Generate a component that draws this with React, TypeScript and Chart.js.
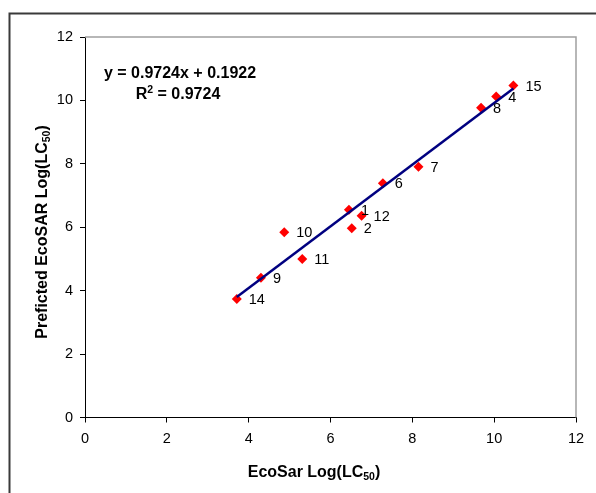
import React, { useEffect, useRef } from 'react';
import { Chart, registerables } from 'chart.js';

Chart.register(...registerables);

// ---- data ----
const pointIds = ['1', '2', '4', '6', '7', '8', '9', '10', '11', '12', '14', '15'];
const ecoSarX = [6.45, 6.52, 10.05, 7.28, 8.15, 9.68, 4.3, 4.87, 5.31, 6.76, 3.71, 10.47];
const predictedY = [6.55, 5.97, 10.12, 7.39, 7.91, 9.77, 4.41, 5.84, 5.0, 6.36, 3.74, 10.47];
const trendSlope = 0.9724;
const trendIntercept = 0.1922;
const rSquared = '0.9724';
const xTicks = [0, 2, 4, 6, 8, 10, 12];
const yTicks = [0, 2, 4, 6, 8, 10, 12];
const xTitle = ['EcoSar Log(LC', '50', ')'];
const yTitle = ['Preficted EcoSAR Log(LC', '50', ')'];

const FONT = '"Liberation Sans", Arial, Helvetica, sans-serif';

type Run = { text: string; size: number; dy: number };

function drawRuns(ctx: CanvasRenderingContext2D, runs: Run[], cx: number, baseline: number) {
  let total = 0;
  const widths = runs.map((r) => {
    ctx.font = `bold ${r.size}px ${FONT}`;
    const w = ctx.measureText(r.text).width;
    total += w;
    return w;
  });
  let x = cx - total / 2;
  ctx.textAlign = 'left';
  ctx.textBaseline = 'alphabetic';
  runs.forEach((r, i) => {
    ctx.font = `bold ${r.size}px ${FONT}`;
    ctx.fillText(r.text, x, baseline + r.dy);
    x += widths[i];
  });
}

const decorPlugin = {
  id: 'decor',
  beforeDraw(chart: any) {
    const ctx = chart.ctx as CanvasRenderingContext2D;
    ctx.save();
    ctx.fillStyle = '#ffffff';
    ctx.fillRect(0, 0, chart.width, chart.height);
    ctx.strokeStyle = '#3a3a3a';
    ctx.lineWidth = 2;
    ctx.beginPath();
    ctx.moveTo(9.5, chart.height);
    ctx.lineTo(9.5, 13.5);
    ctx.lineTo(chart.width, 13.5);
    ctx.stroke();
    ctx.restore();
  },
  beforeDatasetsDraw(chart: any) {
    const ctx = chart.ctx as CanvasRenderingContext2D;
    const a = chart.chartArea;
    ctx.save();
    ctx.strokeStyle = '#a0a0a0';
    ctx.lineWidth = 1.5;
    ctx.beginPath();
    ctx.moveTo(a.left, a.top);
    ctx.lineTo(a.right, a.top);
    ctx.lineTo(a.right, a.bottom);
    ctx.stroke();
    ctx.restore();
  },
  afterDatasetsDraw(chart: any) {
    const ctx = chart.ctx as CanvasRenderingContext2D;
    ctx.save();
    // point labels
    const meta = chart.getDatasetMeta(1);
    ctx.fillStyle = '#000';
    ctx.font = `14.5px ${FONT}`;
    ctx.textAlign = 'left';
    ctx.textBaseline = 'middle';
    meta.data.forEach((el: any, i: number) => {
      ctx.fillText(pointIds[i], el.x + 12, el.y + 1);
    });
    // equation
    ctx.fillStyle = '#000';
    drawRuns(ctx, [{ text: `y = ${trendSlope}x + ${trendIntercept}`, size: 16, dy: 0 }], 180, 78);
    drawRuns(
      ctx,
      [
        { text: 'R', size: 16, dy: 0 },
        { text: '2', size: 10.5, dy: -6 },
        { text: ` = ${rSquared}`, size: 16, dy: 0 },
      ],
      178,
      99.3
    );
    // x title
    drawRuns(
      ctx,
      [
        { text: xTitle[0], size: 16, dy: 0 },
        { text: xTitle[1], size: 10.5, dy: 3 },
        { text: xTitle[2], size: 16, dy: 0 },
      ],
      314,
      476.5
    );
    // y title
    ctx.translate(46.5, 232);
    ctx.rotate(-Math.PI / 2);
    drawRuns(
      ctx,
      [
        { text: yTitle[0], size: 16, dy: 0 },
        { text: yTitle[1], size: 10.5, dy: 3 },
        { text: yTitle[2], size: 16, dy: 0 },
      ],
      0,
      0
    );
    ctx.restore();
  },
};

export default function App() {
  const ref = useRef<HTMLCanvasElement>(null);

  useEffect(() => {
    if (!ref.current) return;
    const xMin = Math.min(...ecoSarX);
    const xMax = Math.max(...ecoSarX);
    const trend = [
      { x: xMin, y: trendSlope * xMin + trendIntercept },
      { x: xMax, y: trendSlope * xMax + trendIntercept },
    ];
    const pts = ecoSarX.map((x, i) => ({ x, y: predictedY[i] }));
    const tickFont = { family: FONT, size: 14.5 };

    const chart = new Chart(ref.current, {
      type: 'scatter',
      data: {
        datasets: [
          {
            label: 'Trend',
            data: trend,
            showLine: true,
            borderColor: '#000080',
            borderWidth: 2.5,
            pointRadius: 0,
            fill: false,
          } as any,
          {
            label: 'Points',
            data: pts,
            backgroundColor: '#ff0000',
            borderColor: '#ff0000',
            borderWidth: 0,
            pointStyle: 'rectRot',
            pointRadius: 5,
          } as any,
        ],
      },
      options: {
        responsive: false,
        animation: false,
        devicePixelRatio: 1,
        layout: { padding: { top: 37, right: 20, left: 0, bottom: 0 } },
        plugins: {
          legend: { display: false },
          tooltip: { enabled: false },
        },
        scales: {
          x: {
            type: 'linear',
            min: 0,
            max: 12,
            afterBuildTicks: (s: any) => {
              s.ticks = xTicks.map((v) => ({ value: v }));
            },
            afterFit: (s: any) => {
              s.height = 75.5;
            },
            grid: { drawOnChartArea: false, tickLength: 5, color: '#000' },
            border: { color: '#000', width: 1 },
            ticks: { color: '#000', font: tickFont, padding: 8, maxRotation: 0 },
          },
          y: {
            type: 'linear',
            min: 0,
            max: 12,
            afterBuildTicks: (s: any) => {
              s.ticks = yTicks.map((v) => ({ value: v }));
            },
            afterFit: (s: any) => {
              s.width = 85;
            },
            grid: { drawOnChartArea: false, tickLength: 5, color: '#000' },
            border: { color: '#000', width: 1 },
            ticks: { color: '#000', font: tickFont, padding: 7 },
          },
        },
      } as any,
      plugins: [decorPlugin],
    });
    return () => chart.destroy();
  }, []);

  return (
    <div style={{ position: 'absolute', left: 0, top: 0, width: 596, height: 493 }}>
      <canvas ref={ref} width={596} height={493} style={{ display: 'block' }} />
    </div>
  );
}
